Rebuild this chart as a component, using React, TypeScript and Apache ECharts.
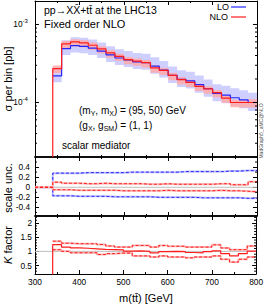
import React, { useEffect, useRef } from 'react';
import * as echarts from 'echarts';

// ---------- data ----------
const massEdges = [340, 360, 380, 400, 420, 440, 460, 480, 500, 520, 540, 560, 580, 600, 620, 640, 660, 680, 700, 720, 740, 760, 780, 800];
const emptyBins = [300, 320];
const xTickLabels = [300, 400, 500, 600, 700, 800];

const nloValues = [2.71e-4, 5.65e-4, 5.99e-4, 5.81e-4, 5.42e-4, 4.87e-4, 4.32e-4, 3.91e-4, 3.55e-4, 3.39e-4, 3.24e-4, 2.77e-4, 2.58e-4, 2.22e-4, 1.96e-4, 1.81e-4, 1.61e-4, 1.49e-4, 1.34e-4, 1.14e-4, 1.0e-4, 1.0e-4, 1.0e-4];
const loValues = [2.19e-4, 4.91e-4, 5.35e-4, 5.23e-4, 4.97e-4, 4.55e-4, 4.08e-4, 3.72e-4, 3.51e-4, 3.32e-4, 3.24e-4, 2.92e-4, 2.61e-4, 2.22e-4, 1.98e-4, 1.89e-4, 1.69e-4, 1.50e-4, 1.31e-4, 1.24e-4, 1.15e-4, 1.08e-4, 1.0e-4];

// relative band widths in the main panel
const nloBandUp = [0.10, 0.09, 0.08, 0.08, 0.08, 0.08, 0.08, 0.08, 0.08, 0.08, 0.08, 0.08, 0.08, 0.08, 0.08, 0.08, 0.08, 0.08, 0.08, 0.08, 0.08, 0.08, 0.10];
const nloBandDn = [-0.12, -0.13, -0.13, -0.13, -0.13, -0.13, -0.13, -0.13, -0.13, -0.13, -0.13, -0.13, -0.13, -0.13, -0.13, -0.13, -0.13, -0.13, -0.13, -0.13, -0.13, -0.14, -0.14];

// scale uncertainty panel
const loUncUp = [0.28, 0.28, 0.28, 0.29, 0.29, 0.29, 0.29, 0.29, 0.30, 0.30, 0.30, 0.30, 0.30, 0.30, 0.31, 0.31, 0.31, 0.31, 0.31, 0.32, 0.32, 0.33, 0.33];
const loUncDn = [-0.17, -0.17, -0.18, -0.18, -0.18, -0.18, -0.19, -0.19, -0.19, -0.19, -0.19, -0.20, -0.20, -0.20, -0.20, -0.20, -0.21, -0.21, -0.21, -0.21, -0.21, -0.22, -0.22];
const nloUncUp = [0.10, 0.08, 0.08, 0.07, 0.07, 0.08, 0.07, 0.07, 0.07, 0.07, 0.06, 0.06, 0.07, 0.06, 0.06, 0.06, 0.06, 0.06, 0.07, 0.07, 0.05, 0.05, 0.11];
const nloUncDn = [-0.05, -0.05, -0.06, -0.06, -0.06, -0.06, -0.06, -0.07, -0.07, -0.07, -0.07, -0.07, -0.06, -0.07, -0.07, -0.07, -0.07, -0.07, -0.06, -0.07, -0.07, -0.08, -0.09];

// K factor panel
const kCentral = [1.235, 1.15, 1.12, 1.11, 1.09, 1.07, 1.06, 1.05, 1.01, 1.02, 1.0, 0.95, 0.99, 1.0, 0.99, 0.96, 0.95, 0.99, 1.02, 0.92, 0.84, 0.92, 1.01];
const kUp = [1.36, 1.29, 1.27, 1.27, 1.27, 1.24, 1.19, 1.15, 1.15, 1.21, 1.21, 1.15, 1.21, 1.18, 1.18, 1.15, 1.15, 1.15, 1.23, 1.12, 1.06, 1.06, 1.19];
const kDn = [1.06, 1.0, 0.95, 0.95, 0.95, 0.89, 0.92, 0.94, 0.94, 0.84, 0.84, 0.80, 0.84, 0.80, 0.80, 0.77, 0.80, 0.80, 0.84, 0.72, 0.62, 0.72, 0.80];

// axis ticks
const logMajorTicks = [1e-4, 1e-3];
const logMinorTicks = [3e-5, 4e-5, 5e-5, 6e-5, 7e-5, 8e-5, 9e-5, 2e-4, 3e-4, 4e-4, 5e-4, 6e-4, 7e-4, 8e-4, 9e-4];
const uncTicks = [-0.4, -0.2, 0, 0.2, 0.4];
const uncMinorTicks = [-0.5, -0.3, -0.1, 0.1, 0.3, 0.5];
const kTicks = [0.5, 1, 1.5, 2];
const kMinorTicks = [0.3, 0.4, 0.6, 0.7, 0.8, 0.9, 1.1, 1.2, 1.3, 1.4, 1.6, 1.7, 1.8, 1.9, 2.1, 2.2];

const X_MIN = 300;
const X_MAX = 800;
const Y_MAIN_MIN = 2e-5;
const Y_MAIN_MAX = 2e-3;

// ---------- style ----------
const FONT = 'Liberation Sans, Arial, Helvetica, sans-serif';
const BLUE = '#2424ff';
const RED = '#ff1c1c';
const LAVENDER = '#cfcfff';
const PINK = 'rgba(255,170,170,0.85)';
const TICK_FONT = 8.3;

const stepData = (vals: number[]) => massEdges.map((e, i) => [e, vals[Math.min(i, vals.length - 1)]]);
const withEmpty = (vals: number[]) => [...emptyBins.map((e) => [e, 0]), ...stepData(vals)];

function lineSeries(g: number, data: number[][], color: string, width: number, dashed = false, z = 2) {
  return {
    type: 'line',
    xAxisIndex: g * 2,
    yAxisIndex: g * 2,
    data,
    step: 'end',
    symbol: 'none',
    silent: true,
    z,
    lineStyle: { color, width, type: dashed ? [3, 2] : 'solid' },
  };
}

function bandSeries(center: number[], up: number[], dn: number[], color: string) {
  return {
    type: 'custom',
    xAxisIndex: 0,
    yAxisIndex: 0,
    data: [[massEdges[0], center[0]]],
    silent: true,
    clip: true,
    renderItem: (_p: any, api: any) => {
      const upper: number[][] = [];
      const lower: number[][] = [];
      center.forEach((c, i) => {
        const x0 = massEdges[i];
        const x1 = massEdges[i + 1];
        const hi = c * (1 + up[i]);
        const lo = c * (1 + dn[i]);
        upper.push(api.coord([x0, hi]), api.coord([x1, hi]));
        lower.push(api.coord([x0, lo]), api.coord([x1, lo]));
      });
      return { type: 'polygon', shape: { points: upper.concat(lower.reverse()) }, style: { fill: color } };
    },
  };
}

// tick marks on both vertical edges of a panel (and optional decade labels)
function yTickSeries(g: number, values: number[], len: number, withLogLabels = false) {
  return {
    type: 'custom',
    xAxisIndex: g * 2,
    yAxisIndex: g * 2,
    data: values.map((v) => [X_MIN, v]),
    silent: true,
    clip: false,
    z: 10,
    renderItem: (_p: any, api: any) => {
      const v = api.value(1);
      const l = api.coord([X_MIN, v]);
      const r = api.coord([X_MAX, v]);
      const children: any[] = [
        { type: 'line', shape: { x1: l[0], y1: l[1], x2: l[0] + len, y2: l[1] }, style: { stroke: '#000', lineWidth: 1 } },
        { type: 'line', shape: { x1: r[0] - len, y1: r[1], x2: r[0], y2: r[1] }, style: { stroke: '#000', lineWidth: 1 } },
      ];
      if (withLogLabels) {
        children.push({
          type: 'text',
          x: l[0] - 12.5,
          y: l[1],
          style: { text: '10', align: 'right', verticalAlign: 'middle', fontSize: TICK_FONT, fontFamily: FONT, fill: '#000' },
        });
        children.push({
          type: 'text',
          x: l[0] - 12.5,
          y: l[1] - 3,
          style: {
            text: String(Math.round(Math.log10(v))),
            align: 'left',
            verticalAlign: 'middle',
            fontSize: 6,
            fontFamily: FONT,
            fill: '#000',
          },
        });
      }
      return { type: 'group', children };
    },
  };
}

function xAxis(g: number, position: 'top' | 'bottom', labels: boolean, lw: number) {
  return {
    type: 'value',
    gridIndex: g,
    position,
    min: X_MIN,
    max: X_MAX,
    interval: 100,
    axisLine: { show: true, onZero: false, lineStyle: { color: '#000', width: lw } },
    axisTick: { show: true, inside: true, length: 4, lineStyle: { color: '#000' } },
    minorTick: { show: true, splitNumber: 2, length: 2, lineStyle: { color: '#000' } },
    splitLine: { show: false },
    minorSplitLine: { show: false },
    axisLabel: labels
      ? { show: true, fontSize: TICK_FONT, color: '#000', margin: 4, fontFamily: FONT, customValues: xTickLabels }
      : { show: false },
  };
}

function yAxisLinear(g: number, position: 'left' | 'right', min: number, max: number, ticks: number[], labels: boolean, margin: number) {
  return {
    type: 'value',
    gridIndex: g,
    position,
    min,
    max,
    axisLine: { show: true, onZero: false, lineStyle: { color: '#000', width: 1 } },
    axisTick: { show: true, inside: true, length: 4, customValues: ticks, lineStyle: { color: '#000' } },
    splitLine: { show: false },
    axisLabel: labels
      ? { show: true, fontSize: TICK_FONT, color: '#000', margin, fontFamily: FONT, customValues: ticks }
      : { show: false },
  };
}

function yAxisLog(position: 'left' | 'right') {
  return {
    type: 'log',
    logBase: 10,
    gridIndex: 0,
    position,
    min: Y_MAIN_MIN,
    max: Y_MAIN_MAX,
    axisLine: { show: true, onZero: false, lineStyle: { color: '#000', width: 1 } },
    axisTick: { show: false },
    splitLine: { show: false },
    axisLabel: { show: false },
  };
}

const txt = (x: number, y: number, text: string, fontSize: number, extra: any = {}) => ({
  type: 'text',
  x,
  y,
  silent: true,
  ...extra,
  style: {
    text,
    fontSize,
    fontFamily: FONT,
    fill: '#000',
    verticalAlign: 'middle',
    align: 'left',
    ...(extra.style || {}),
  },
});

const subRich = {
  n: { fontSize: 10, lineHeight: 13, fontFamily: FONT, fill: '#000' },
  sub: { fontSize: 7, lineHeight: 7, verticalAlign: 'bottom', fontFamily: FONT, fill: '#000' },
};

const option: any = {
  animation: false,
  backgroundColor: '#fff',
  grid: [
    { left: 35, top: 1, width: 222, height: 156 },
    { left: 35, top: 157, width: 222, height: 59 },
    { left: 35, top: 216, width: 222, height: 58 },
  ],
  xAxis: [
    xAxis(0, 'bottom', false, 1.5),
    xAxis(0, 'top', false, 1),
    xAxis(1, 'bottom', false, 1.5),
    xAxis(1, 'top', false, 1.5),
    xAxis(2, 'bottom', true, 1),
    xAxis(2, 'top', false, 1.5),
  ],
  yAxis: [
    yAxisLog('left'),
    yAxisLog('right'),
    yAxisLinear(1, 'left', -0.57, 0.6, uncTicks, true, 5),
    yAxisLinear(1, 'right', -0.57, 0.6, uncTicks, false, 5),
    yAxisLinear(2, 'left', 0.2, 2.25, kTicks, true, 3),
    yAxisLinear(2, 'right', 0.2, 2.25, kTicks, false, 3),
  ],
  series: [
    // main panel
    bandSeries(loValues, loUncUp, loUncDn, LAVENDER),
    lineSeries(0, stepData(loValues), BLUE, 1.2),
    bandSeries(nloValues, nloBandUp, nloBandDn, PINK),
    lineSeries(0, [[massEdges[0], Y_MAIN_MIN], ...stepData(nloValues)], RED, 1.2),
    yTickSeries(0, logMajorTicks, 4, true),
    yTickSeries(0, logMinorTicks, 2),

    // scale uncertainty panel
    lineSeries(1, [[X_MIN, 0], [X_MAX, 0]], '#bdbdbd', 1, false, 1),
    lineSeries(1, withEmpty(loUncUp), '#bcbcff', 2),
    lineSeries(1, withEmpty(loUncDn), '#bcbcff', 2),
    lineSeries(1, withEmpty(loUncUp), BLUE, 1, true, 3),
    lineSeries(1, withEmpty(loUncDn), BLUE, 1, true, 3),
    lineSeries(1, withEmpty(nloUncUp), '#ffb4b4', 2, false, 4),
    lineSeries(1, withEmpty(nloUncDn), '#ffb4b4', 2, false, 4),
    lineSeries(1, withEmpty(nloUncUp), RED, 1, true, 5),
    lineSeries(1, withEmpty(nloUncDn), RED, 1, true, 5),
    yTickSeries(1, uncMinorTicks, 2),

    // K factor panel
    lineSeries(2, [[X_MIN, 1], [X_MAX, 1]], '#bdbdbd', 1, false, 1),
    lineSeries(2, stepData(kUp), '#ffb4b4', 2, false, 2),
    lineSeries(2, stepData(kDn), '#ffb4b4', 2, false, 2),
    lineSeries(2, stepData(kUp), RED, 1, true, 3),
    lineSeries(2, stepData(kDn), RED, 1, true, 3),
    lineSeries(2, withEmpty(kCentral), RED, 1.2, false, 4),
    yTickSeries(2, kMinorTicks, 2),
  ],
  graphic: [
    txt(44, 10, 'pp\u2192XX\u0304+tt\u0304 at the LHC13', 10.5),
    txt(44, 24, 'Fixed order NLO', 11),
    txt(229, 7, 'LO', 9, { style: { align: 'right' } }),
    { type: 'line', silent: true, shape: { x1: 231, y1: 7, x2: 246, y2: 7 }, style: { stroke: BLUE, lineWidth: 1.2 } },
    txt(228, 17, 'NLO', 9, { style: { align: 'right' } }),
    { type: 'line', silent: true, shape: { x1: 231, y1: 17, x2: 246, y2: 17 }, style: { stroke: RED, lineWidth: 1.2 } },
    txt(79, 110, '{n|(m}{sub|Y}{n|, m}{sub|X}{n|) = (95, 50) GeV}', 10, { style: { rich: subRich } }),
    txt(79, 125, '{n|(g}{sub|X}{n|, g}{sub|SM}{n|) = (1, 1)}', 10, { style: { rich: subRich } }),
    txt(62, 145, 'scalar mediator', 10),
    txt(8, 79, '\u03c3 per bin [pb]', 11, { rotation: Math.PI / 2, style: { align: 'center' } }),
    txt(8, 188, 'scale unc.', 11, { rotation: Math.PI / 2, style: { align: 'center' } }),
    txt(8, 245, '{i|K} factor', 11, {
      rotation: Math.PI / 2,
      style: {
        align: 'center',
        rich: { i: { fontStyle: 'italic', fontSize: 11, fontFamily: FONT, fill: '#000' } },
      },
    }),
    txt(146, 298, 'm(tt\u0304) [GeV]', 11, { style: { align: 'center' } }),
    txt(261, 131, 'MadGraph5_aMC@NLO', 5, { rotation: Math.PI / 2, style: { align: 'center', fill: '#555' } }),
  ],
};

export default function App() {
  const ref = useRef<HTMLDivElement>(null);
  useEffect(() => {
    if (!ref.current) return;
    const chart = echarts.init(ref.current, undefined, { renderer: 'svg' });
    chart.setOption(option);
    return () => chart.dispose();
  }, []);
  return <div ref={ref} style={{ position: 'absolute', left: 0, top: 0, width: 266, height: 305, background: '#fff' }} />;
}
